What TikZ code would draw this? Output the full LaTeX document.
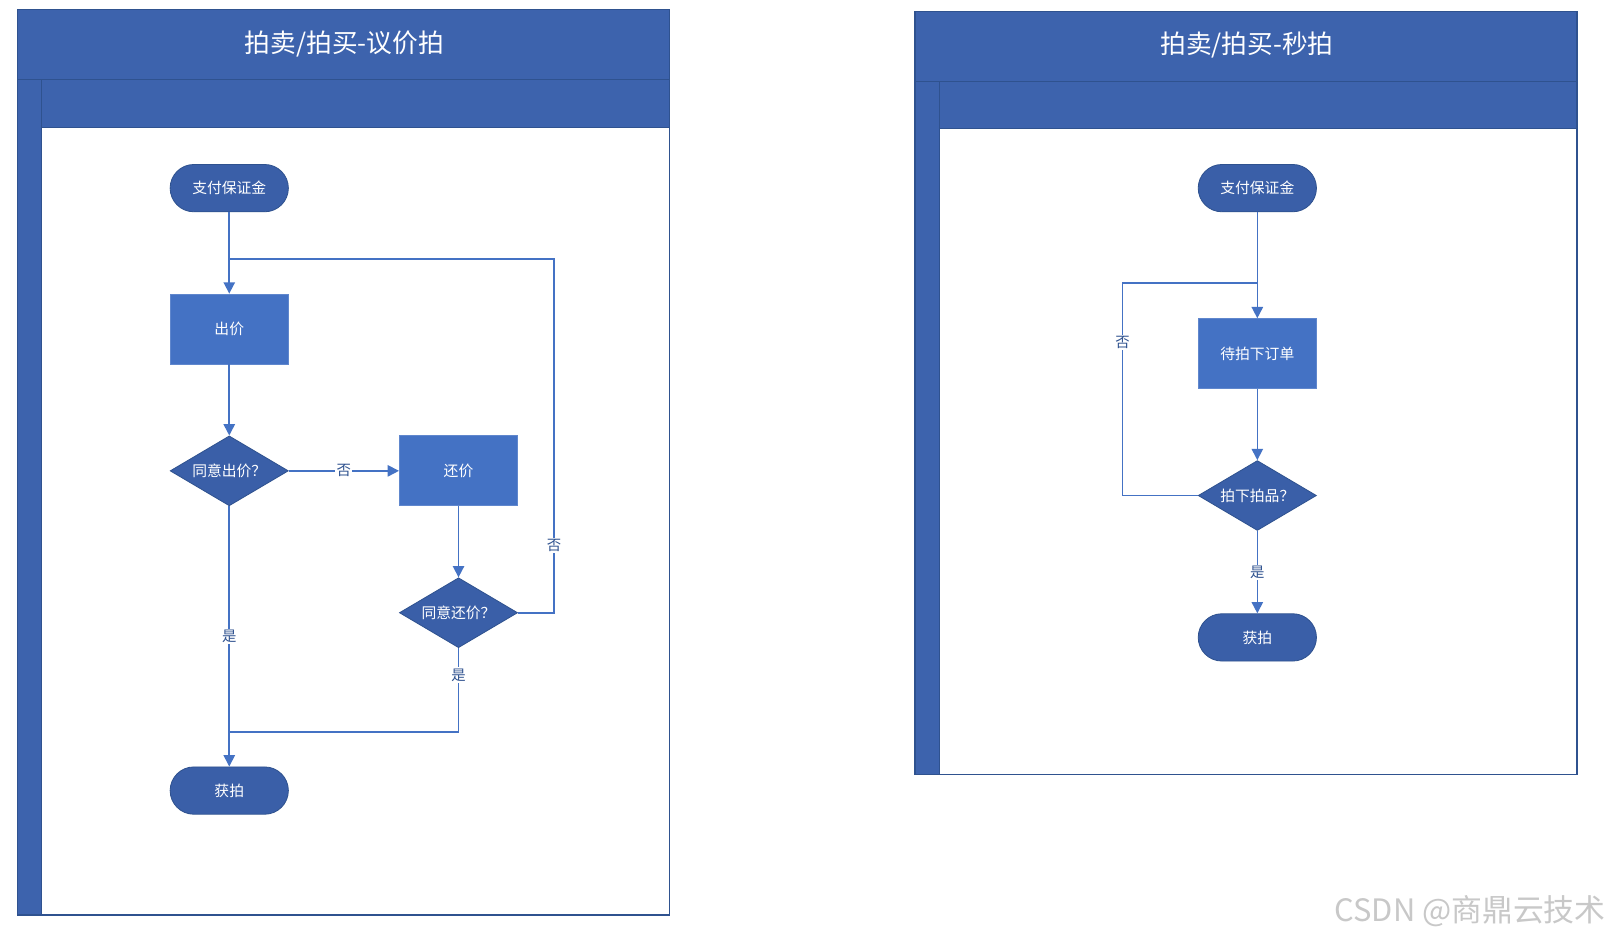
\documentclass[tikz,border=0pt]{standalone}
\usepackage{fontspec}
\setmainfont{Noto Sans CJK SC}
\usetikzlibrary{arrows.meta,shapes.geometric}
\definecolor{band}{HTML}{3D63AD}
\definecolor{bandline}{HTML}{2F528F}
\definecolor{dark}{HTML}{3A5FA8}
\definecolor{mid}{HTML}{4472C4}
\definecolor{wm}{HTML}{C8C8C8}
\tikzset{
  term/.style={rectangle, rounded corners=11.5pt, draw=bandline, line width=0.4pt, fill=dark, text=white,
    minimum width=57.5pt, minimum height=23pt, inner sep=0pt, font=\fontsize{7.2}{8}\selectfont},
  proc/.style={rectangle, draw=mid!85!white, line width=0.4pt, fill=mid, text=white,
    minimum width=57.5pt, minimum height=34pt, inner sep=0pt, font=\fontsize{7.2}{8}\selectfont},
  dec/.style={diamond, aspect=1.7, draw=bandline, line width=0.4pt, fill=dark, text=white,
    minimum width=57.5pt, minimum height=34pt, inner sep=0pt, font=\fontsize{7.2}{8}\selectfont},
  conn/.style={draw=mid, line width=0.8pt},
  arr/.style={conn, -{Triangle[length=5.5pt,width=5.5pt]}},
  lbl/.style={fill=white, text=bandline, inner sep=0.6pt, font=\fontsize{7}{8}\selectfont},
  title/.style={text=white, font=\fontsize{12.5}{14}\selectfont},
}
\begin{document}
\begin{tikzpicture}[x=0.5pt,y=-0.5pt]
\useasboundingbox (0,0) rectangle (1568,914);
\fill[white] (0,0) rectangle (1568,914);

% ---------- left panel ----------
\fill[white] (17,9) rectangle (651,890);
\fill[band] (17,9) rectangle (651,124);
\fill[band] (17,77) rectangle (40,890);
\draw[mid, line width=0.6pt] (40,124) rectangle (651,890);
\draw[bandline, line width=0.6pt] (17,9) rectangle (651,890);
\draw[bandline, line width=0.6pt] (17,77) -- (651,77);
\draw[bandline, line width=0.6pt] (40,77) -- (40,890);
\draw[bandline, line width=0.6pt] (40,124) -- (651,124);
\node[title] (t1) at (335,43) {拍卖/拍买-议价拍};

\node[term] (pay1) at (223,183) {支付保证金};
\node[proc] (bid) at (223,320) {出价};
\node[dec] (agree1) at (223,458) {同意出价？};
\node[proc] (counter) at (446,458) {还价};
\node[dec] (agree2) at (446,596) {同意还价？};
\node[term] (win1) at (223,769) {获拍};

\coordinate (j1) at (223,252);
\coordinate (c1) at (539,596);
\coordinate (c2) at (539,252);
\coordinate (j2) at (223,712);
\coordinate (c3) at (446,712);

\draw[arr] (pay1) -- (bid);
\draw[arr] (bid) -- (agree1);
\draw[arr] (agree1) -- node[lbl] {否} (counter);
\draw[arr] (counter) -- (agree2);
\draw[conn] (agree2.east) -- (c1) -- node[lbl, pos=0.19] {否} (c2) -- (j1);
\draw[arr] (agree1) -- node[lbl] {是} (win1);
\draw[conn] (agree2.south) -- node[lbl, pos=0.32] {是} (c3) -- (j2);

% ---------- right panel ----------
\fill[white] (890,11) rectangle (1534,753);
\fill[band] (890,11) rectangle (1534,125);
\fill[band] (890,79) rectangle (914,753);
\draw[mid, line width=0.6pt] (914,125) rectangle (1534,753);
\draw[bandline, line width=0.6pt] (890,11) rectangle (1534,753);
\draw[bandline, line width=0.6pt] (890,79) -- (1534,79);
\draw[bandline, line width=0.6pt] (914,79) -- (914,753);
\draw[bandline, line width=0.6pt] (914,125) -- (1534,125);
\node[title] (t2) at (1213,44) {拍卖/拍买-秒拍};

\node[term] (pay2) at (1223,183) {支付保证金};
\node[proc] (order) at (1223,344) {待拍下订单};
\node[dec] (got) at (1223,482) {拍下拍品？};
\node[term] (win2) at (1223,620) {获拍};

\coordinate (j3) at (1223,275);
\coordinate (c4) at (1092,482);
\coordinate (c5) at (1092,275);

\draw[arr] (pay2) -- (order);
\draw[arr] (order) -- (got);
\draw[conn] (got.west) -- (c4) -- node[lbl, pos=0.72] {否} (c5) -- (j3);
\draw[arr] (got) -- node[lbl] {是} (win2);

% ---------- watermark ----------
\node[text=wm, font=\fontsize{15}{17}\selectfont, inner sep=0pt] (wmark) at (1430,886) {CSDN @商鼎云技术};
\end{tikzpicture}
\end{document}
